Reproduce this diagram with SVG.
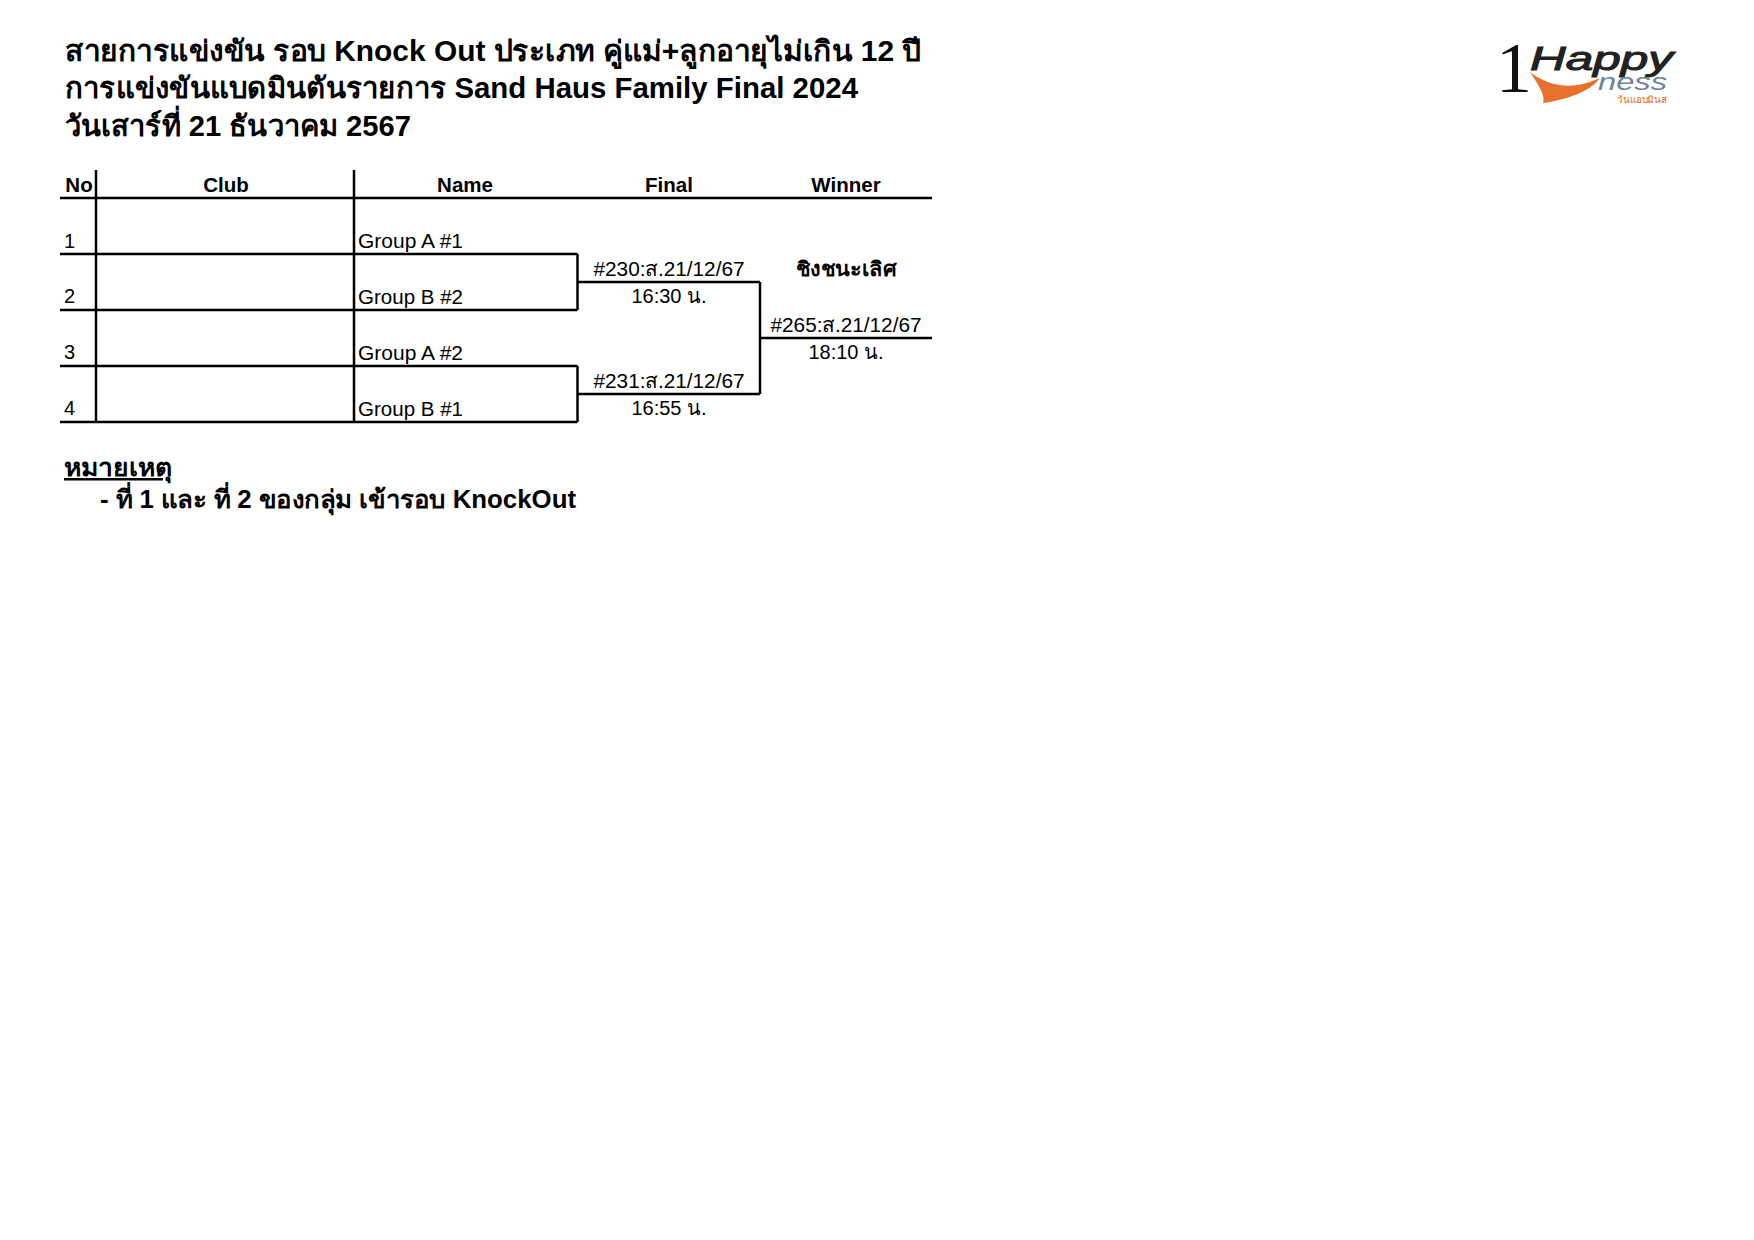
<svg xmlns="http://www.w3.org/2000/svg" width="1754" height="1240" viewBox="0 0 1754 1240">
<style>
text{font-family:"Liberation Sans",Arial,"Noto Sans",sans-serif;fill:#000}
.t{font-size:29px;font-weight:bold}
.h{font-size:20.5px;font-weight:bold;text-anchor:middle}
.b{font-size:20px}
.c{font-size:20px;text-anchor:middle}
.n{font-size:25px;font-weight:bold}
.l{fill:none;stroke:#000;stroke-width:2.500}
</style>
<rect width="1754" height="1240" fill="#fff"/>
<g id="title">
<text class="t" x="65" y="61" textLength="856" lengthAdjust="spacingAndGlyphs">สายการแข่งขัน รอบ Knock Out ประเภท คู่แม่+ลูกอายุไม่เกิน 12 ปี</text>
<text class="t" x="65" y="98" textLength="793" lengthAdjust="spacingAndGlyphs">การแข่งขันแบดมินตันรายการ Sand Haus Family Final 2024</text>
<text class="t" x="65" y="136" textLength="346" lengthAdjust="spacingAndGlyphs">วันเสาร์ที่ 21 ธันวาคม 2567</text>
</g>
<g id="connectors">
<path class="l" d="M60 198H932M60 254H577.500M60 310H577.500M60 366H577.500M60 422H577.500M96 170V422M354 170V422M577.500 254V310M577.500 366V422M577.500 282H760M577.500 394H760M760 282V394M760 338H932"/>
</g>
<g id="header">
<text class="h" x="79" y="192">No</text>
<text class="h" x="226" y="192">Club</text>
<text class="h" x="465" y="192">Name</text>
<text class="h" x="669" y="192">Final</text>
<text class="h" x="846" y="192">Winner</text>
</g>
<g id="row1"><text class="b" x="64" y="248">1</text><text class="b" x="358" y="248" textLength="105" lengthAdjust="spacingAndGlyphs">Group A #1</text></g>
<g id="row2"><text class="b" x="64" y="303">2</text><text class="b" x="358" y="304" textLength="105" lengthAdjust="spacingAndGlyphs">Group B #2</text></g>
<g id="row3"><text class="b" x="64" y="359">3</text><text class="b" x="358" y="360" textLength="105" lengthAdjust="spacingAndGlyphs">Group A #2</text></g>
<g id="row4"><text class="b" x="64" y="415">4</text><text class="b" x="358" y="416" textLength="105" lengthAdjust="spacingAndGlyphs">Group B #1</text></g>
<g id="match230"><text class="c" x="669" y="276" textLength="151" lengthAdjust="spacingAndGlyphs">#230:ส.21/12/67</text><text class="c" x="669" y="303">16:30 น.</text></g>
<g id="match231"><text class="c" x="669" y="388" textLength="151" lengthAdjust="spacingAndGlyphs">#231:ส.21/12/67</text><text class="c" x="669" y="415">16:55 น.</text></g>
<g id="match265"><text class="h" x="846" y="276" textLength="101" lengthAdjust="spacingAndGlyphs">ชิงชนะเลิศ</text><text class="c" x="846" y="332" textLength="151" lengthAdjust="spacingAndGlyphs">#265:ส.21/12/67</text><text class="c" x="846" y="359">18:10 น.</text></g>
<g id="notes">
<text class="n" x="64" y="476" text-decoration="underline" textLength="108" lengthAdjust="spacingAndGlyphs">หมายเหตุ</text>
<text class="n" x="100" y="508" textLength="476" lengthAdjust="spacingAndGlyphs">- ที่ 1 และ ที่ 2 ของกลุ่ม เข้ารอบ KnockOut</text>
</g>
<g id="logo">
<text x="1496" y="92" font-size="72" style="font-family:'Liberation Serif',serif;fill:#111">1</text>
<path d="M1530 72C1550 88 1575 90 1600 78C1590 92 1565 100 1543 103C1546 96 1538 84 1530 72Z" fill="#e8702a"/>
<text x="1530" y="70" font-size="33" font-style="italic" stroke="#222" stroke-width="1" style="fill:#222" textLength="143" lengthAdjust="spacingAndGlyphs">Happy</text>
<text x="1598" y="90" font-size="23" font-style="italic" style="fill:#6f8496" textLength="69" lengthAdjust="spacingAndGlyphs">ness</text>
<text x="1617" y="103" font-size="10" style="fill:#d96a20" textLength="50" lengthAdjust="spacingAndGlyphs">วันแอบมินส</text>
</g>
</svg>
